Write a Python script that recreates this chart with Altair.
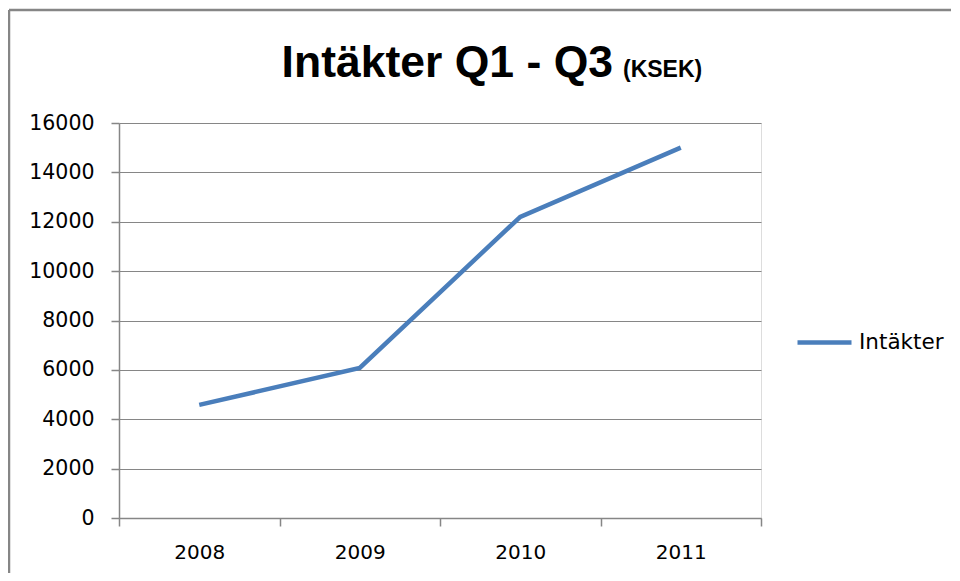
import altair as alt
import pandas as pd

years = ["2008", "2009", "2010", "2011"]
intakter = [4580, 6080, 12200, 15000]
series_name = "Intäkter"
y_ticks = [0, 2000, 4000, 6000, 8000, 10000, 12000, 14000, 16000]
title_main = "Intäkter Q1 - Q3"
title_unit = "(KSEK)"

df = pd.DataFrame({"year": years, "value": intakter, "series": [series_name] * len(years)})
one = pd.DataFrame({"k": [0]})

W, H = 642, 395
GREY = "#868686"
BLUE = "#4a7ebb"
FONT = "DejaVu Sans"

line = alt.Chart(df).mark_line(strokeWidth=4.5).encode(
    x=alt.X(
        "year:N",
        sort=years,
        bandPosition=0.5,
        scale=alt.Scale(type="band", paddingInner=0, paddingOuter=0),
        axis=alt.Axis(
            title=None, labelAngle=0, tickBand="extent", grid=False,
            domainColor=GREY, domainWidth=1.5, tickColor=GREY, tickSize=8, tickWidth=1.5,
            labelFont=FONT, labelFontSize=20, labelColor="#000000", labelPadding=16,
        ),
    ),
    y=alt.Y(
        "value:Q",
        scale=alt.Scale(domain=[0, 16000], nice=False),
        axis=alt.Axis(
            title=None, values=y_ticks, format="d", grid=True, gridColor=GREY, gridWidth=1.2,
            domainColor=GREY, domainWidth=1.5, tickColor=GREY, tickSize=8, tickWidth=1.5,
            labelFont=FONT, labelFontSize=20.5, labelColor="#000000", labelPadding=17,
        ),
    ),
    color=alt.Color(
        "series:N",
        scale=alt.Scale(range=[BLUE]),
        legend=alt.Legend(
            title=None, orient="none", legendX=676, legendY=190, padding=0,
            symbolType="stroke", symbolSize=2916, symbolStrokeWidth=4.5,
            labelFont=FONT, labelFontSize=21.5, labelColor="#000000", labelOffset=5,
        ),
    ),
)

border_top = alt.Chart(one).mark_rule(color=GREY, strokeWidth=2.5).encode(
    x=alt.value(-110), x2=alt.value(W + 400), y=alt.value(-113)
)
border_left = alt.Chart(one).mark_rule(color=GREY, strokeWidth=2.5).encode(
    x=alt.value(-110), y=alt.value(-113), y2=alt.value(H + 400)
)

t1 = alt.Chart(one).mark_text(
    font="Liberation Sans", fontWeight="bold", fontSize=44.5, align="right", baseline="alphabetic", color="#000000"
).encode(x=alt.value(494), y=alt.value(-46), text=alt.value(title_main))

t2 = alt.Chart(one).mark_text(
    font="Liberation Sans", fontWeight="bold", fontSize=23, align="left", baseline="alphabetic", color="#000000"
).encode(x=alt.value(504), y=alt.value(-46), text=alt.value(title_unit))

chart = alt.layer(border_top, border_left, line, t1, t2).properties(
    width=W, height=H,
    autosize=alt.AutoSizeParams(type="none"),
    padding={"left": 111, "top": 115, "right": 190, "bottom": 55},
).configure_view(stroke=None).configure(background="white")

chart.save("out.html", embed_options={"renderer": "svg", "actions": False})
